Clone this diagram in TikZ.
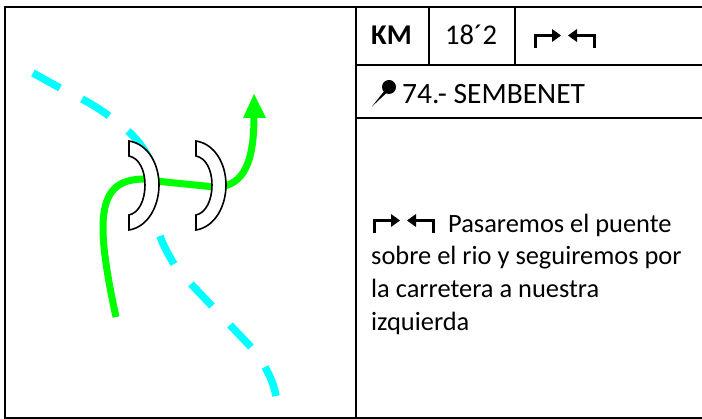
\documentclass[tikz,border=0pt]{standalone}
\usepackage{fontspec}
\setmainfont{Carlito}
\definecolor{roadgreen}{RGB}{0,255,0}
\definecolor{rivercyan}{RGB}{0,255,255}
\newcommand{\bodysize}{\fontsize{26.4}{33}\selectfont}
\newcommand{\headsize}{\fontsize{28.6}{33}\selectfont}
\newcommand{\townsize}{\fontsize{29.5}{33}\selectfont}
\tikzset{
  x=1pt,y=-1pt,
  grid/.style={draw=black,line width=2pt},
  road/.style={draw=roadgreen,line width=7pt},
  river/.style={draw=rivercyan,line width=7.5pt},
  bridge/.style={draw=black,fill=white,line width=1.6pt},
  txt/.style={inner sep=0pt,anchor=base west,font=\bodysize},
  headtxt/.style={inner sep=0pt,anchor=base west,font=\headsize},
  turn/.style={line width=3.2pt,draw=black},
}
\begin{document}
\begin{tikzpicture}
\useasboundingbox (0,0) rectangle (702,419);
\draw[grid] (702,7) -- (5,7) -- (5,418) -- (702,418);
\draw[grid] (356,7) -- (356,418);
\draw[grid] (356,65) -- (702,65);
\draw[grid] (356,118) -- (702,118);
\draw[grid] (429,7) -- (429,65);
\draw[grid] (515,7) -- (515,65);
% river
\draw[river] (33,73) -- (60,88);
\draw[river] (82,99) .. controls (91,104) and (100,109) .. (109,116);
\draw[river] (128,131) .. controls (136,138) and (144,148) .. (150,160);
\draw[river] (160,236) .. controls (163,245) and (168,254) .. (174,264);
\draw[river] (191,284) -- (212,306);
\draw[river] (230,325) -- (251,347);
\draw[river] (265,367) .. controls (270,376) and (274,385) .. (276,396);
% road
\draw[road] (116,317) .. controls (108,280) and (103,250) .. (103,228) .. controls (103,190) and (118,179) .. (145,179) -- (165,182) -- (215,187) .. controls (245,187) and (254,160) .. (254,116);
\fill[roadgreen] (243,118) -- (254,94) -- (266,118) -- cycle;
% bridges
\foreach \dx in {0,67}{
\draw[bridge,shift={(\dx,0)}] (129,141) .. controls (148,144) and (159,164) .. (159,185) .. controls (159,206) and (148,227) .. (129,230) -- (129,215) .. controls (139,213) and (145,200) .. (145,185) .. controls (145,170) and (139,158) .. (129,156) -- cycle;
}
\node[headtxt,font=\headsize\bfseries] (km) at (371,45) {KM};
\node[headtxt] (kmv) at (445,45) {18´2};
% turn icons
\foreach \ix/\iy in {0/0,-161/185}{
\begin{scope}[shift={(\ix,\iy)}]
\draw[turn] (535.5,48) -- (535.5,35.5) -- (553,35.5);
\fill (552,29) -- (561,35.5) -- (552,42) -- cycle;
\draw[turn] (594.5,48) -- (594.5,35.5) -- (576,35.5);
\fill (577,29) -- (568,35.5) -- (577,42) -- cycle;
\end{scope}
}
% pin
\fill (372,106.5) -- (385,90) -- (387.5,92) -- cycle;
\fill (389,87) circle (7);
\node[headtxt,font=\townsize] (town) at (402,103.5) {74.- SEMBENET};
\node[txt] (l1) at (448,233) {Pasaremos el puente};
\node[txt] (l2) at (371,265) {sobre el rio y seguiremos por};
\node[txt] (l3) at (371,298) {la carretera a nuestra};
\node[txt] (l4) at (371,331) {izquierda};
\end{tikzpicture}
\end{document}
